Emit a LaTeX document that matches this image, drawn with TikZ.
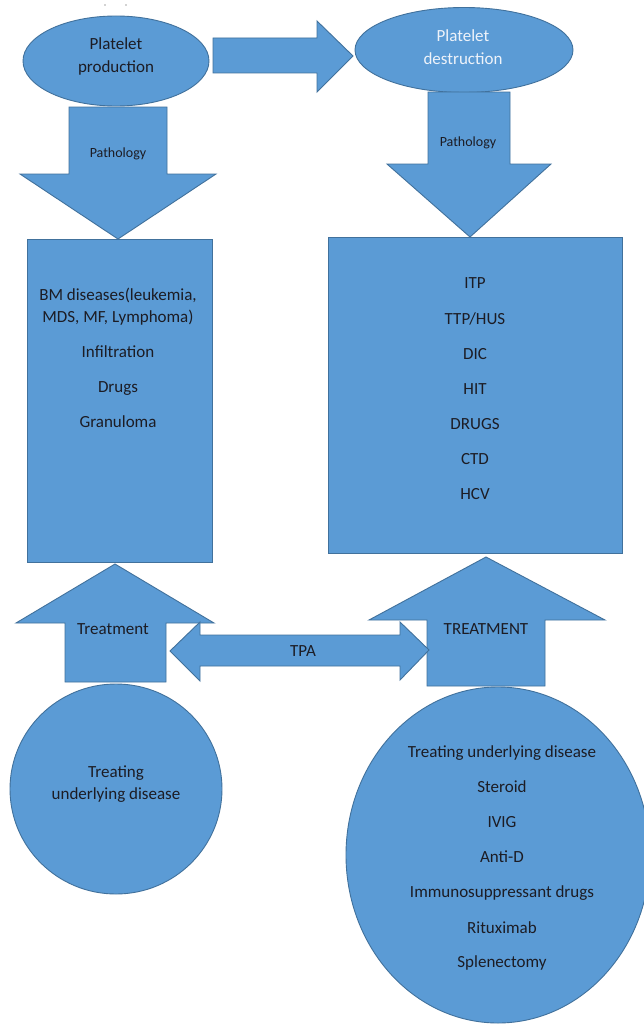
\documentclass[tikz,border=0pt]{standalone}
\usepackage{fontspec}
\setmainfont{Carlito}
\usetikzlibrary{shapes.geometric}
\definecolor{fillblue}{HTML}{5B9BD5}
\definecolor{edgeblue}{HTML}{41719C}
\definecolor{txt}{HTML}{1C1C24}
\definecolor{lighttxt}{HTML}{EEF3FA}
\tikzset{
  blk/.style={fill=fillblue, draw=edgeblue, line width=0.9pt, line join=miter},
  oval/.style={blk, ellipse, inner sep=0pt},
  box/.style={blk, rectangle, inner sep=0pt},
  lbl/.style={text=txt, font=\fontsize{17}{20}\selectfont, inner sep=0pt, text height=11pt, text depth=1pt},
  smalllbl/.style={lbl, font=\fontsize{14}{16}\selectfont, text height=9pt, text depth=1pt},
}
\begin{document}
\begin{tikzpicture}[x=1pt,y=-1pt]
\useasboundingbox (0,0) rectangle (644,1025);
\fill[white] (0,0) rectangle (644,1025);
% stray marks at top
\fill[gray!70] (105,5) circle (0.9) (126,5) circle (0.9);

% top ellipses
\node[oval, minimum width=186pt, minimum height=90pt] (prod) at (116,61) {};
\node[oval, minimum width=218pt, minimum height=85pt] (dest) at (464,50) {};
\node[lbl] (prodA) at (116,45) {Platelet};
\node[lbl] (prodB) at (116,67) {production};
\node[lbl, text=lighttxt] (destA) at (463,37) {Platelet};
\node[lbl, text=lighttxt] (destB) at (463,59) {destruction};

% horizontal arrow
\draw[blk] (213,38) -- (317,38) -- (317,21) -- (353,56) -- (317,92) -- (317,73) -- (213,73) -- cycle;

% pathology arrows
\draw[blk] (69,107) -- (167,107) -- (167,174) -- (216,174) -- (118,239) -- (20,174) -- (69,174) -- cycle;
\draw[blk] (428,92) -- (510,92) -- (510,164) -- (551,164) -- (470,237) -- (387,164) -- (428,164) -- cycle;
\node[smalllbl] (pathL) at (118,153) {Pathology};
\node[smalllbl] (pathR) at (468,142) {Pathology};

% boxes
\node[box, minimum width=185pt, minimum height=323pt] (boxL) at (119.5,400.5) {};
\node[box, minimum width=294pt, minimum height=316pt] (boxR) at (475,395) {};

\node[lbl] (l1) at (118,295) {BM diseases(leukemia,};
\node[lbl] (l2) at (118,317) {MDS, MF, Lymphoma)};
\node[lbl] (l3) at (118,352) {Infiltration};
\node[lbl] (l4) at (118,387) {Drugs};
\node[lbl] (l5) at (118,422) {Granuloma};

\node[lbl] (r1) at (475,283) {ITP};
\node[lbl] (r2) at (475,319) {TTP/HUS};
\node[lbl] (r3) at (475,354) {DIC};
\node[lbl] (r4) at (475,389) {HIT};
\node[lbl] (r5) at (475,424) {DRUGS};
\node[lbl] (r6) at (475,459) {CTD};
\node[lbl] (r7) at (475,494) {HCV};

% up arrows
\draw[blk] (115,564) -- (214,623) -- (166,623) -- (166,682) -- (65,682) -- (65,623) -- (16,623) -- cycle;
\draw[blk] (486,557) -- (605,620) -- (545,620) -- (545,686) -- (427,686) -- (427,620) -- (369,620) -- cycle;

% TPA double arrow
\draw[blk] (170,651) -- (200,622) -- (200,635) -- (400,635) -- (400,622) -- (429,650) -- (400,680) -- (400,666) -- (200,666) -- (200,681) -- cycle;

\node[lbl] (treatL) at (113,629) {Treatment};
\node[lbl] (treatR) at (486,629) {TREATMENT};
\node[lbl] (tpa) at (303,651) {TPA};

% bottom circles
\node[oval, minimum width=212pt, minimum height=210pt] (circL) at (116,789) {};
\node[oval, minimum width=304pt, minimum height=336pt] (circR) at (498,855) {};

\node[lbl] (cl1) at (116,772) {Treating};
\node[lbl] (cl2) at (116,794) {underlying disease};

\node[lbl] (c1) at (502,752) {Treating underlying disease};
\node[lbl] (c2) at (502,787) {Steroid};
\node[lbl] (c3) at (502,822) {IVIG};
\node[lbl] (c4) at (502,857) {Anti-D};
\node[lbl] (c5) at (502,892) {Immunosuppressant drugs};
\node[lbl] (c6) at (502,928) {Rituximab};
\node[lbl] (c7) at (502,962) {Splenectomy};
\end{tikzpicture}
\end{document}
